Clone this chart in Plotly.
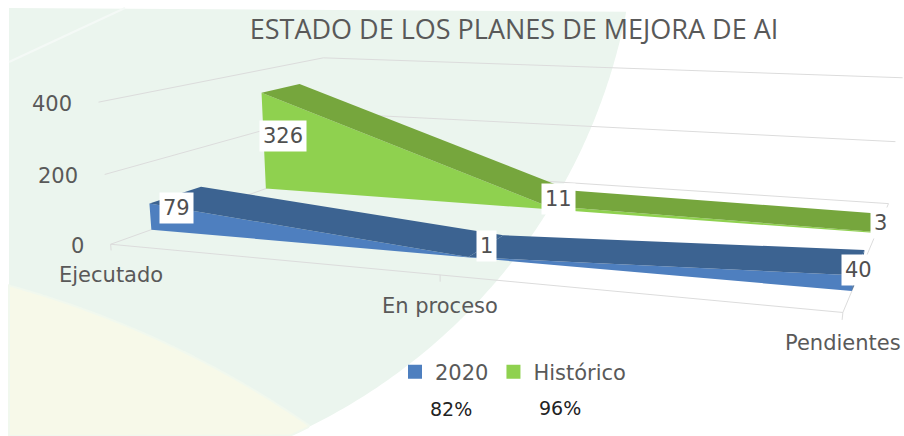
import numpy as np
import plotly.graph_objects as go

# ---- chart data ----
categories = ["Ejecutado", "En proceso", "Pendientes"]
values_2020 = [79, 1, 40]
values_historico = [326, 11, 3]
y_ticks = [0, 200, 400]
footer_labels = ["82%", "96%"]
axis_max = 400

FONT = "DejaVu Sans"
TEXT = "#595959"
GRID = "#dcdcdc"
BLUE, BLUE_TOP = "#4e7fbf", "#3c6391"
GREEN, GREEN_TOP = "#8fd14f", "#76a63d"

# ---- oblique view of the chart box: cube corners (category, depth, value/max) -> page pixel ----
view = [((0, 0, 0), (112, 243)), ((2, 0, 0), (843, 313)), ((2, 1, 0), (889, 203)), ((0, 1, 0), (325, 168)),
        ((0, 0, 1), (97, 103)), ((0, 1, 1), (325, 57)), ((2, 1, 1), (902, 78))]
rows = []
for (u, v, w), (px, py) in view:
    px, py = px / 1000, py / 1000
    rows.append([u, v, w, 1, 0, 0, 0, 0, -px * u, -px * v, -px * w, -px])
    rows.append([0, 0, 0, 0, u, v, w, 1, -py * u, -py * v, -py * w, -py])
P = np.linalg.svd(np.array(rows, float))[2][-1].reshape(3, 4)


def project(u, v, value):
    h = P @ np.array([u, v, value / axis_max, 1.0])
    return 1000 * h[0] / h[2], 1000 * h[1] / h[2]


def path(points):
    xy = [project(*p) for p in points]
    return [a for a, _ in xy], [b for _, b in xy]


fig = go.Figure()


def face(points, color):
    x, y = path(points)
    fig.add_trace(go.Scatter(x=x, y=y, mode="lines", fill="toself", fillcolor=color,
                             line=dict(width=0, color=color), showlegend=False, hoverinfo="skip"))


def line(points, width=1):
    x, y = path(points)
    fig.add_trace(go.Scatter(x=x, y=y, mode="lines", line=dict(width=width, color=GRID),
                             showlegend=False, hoverinfo="skip"))


n = len(categories)
last = n - 1
# walls, floor, tick marks
for t in y_ticks:
    line([(0, 0, t), (0, 1, t), (last, 1, t)])
line([(0, 0, 0), (last, 0, 0), (last, 1, 0)])
for i in range(n):
    line([(i, 0, 0), (i, 0, -axis_max * 0.045)])


def series(values, v0, v1, front, top):
    face([(i, v0, values[i]) for i in range(n)] + [(last, v0, 0), (0, v0, 0)], front)
    for i in range(last):
        face([(i, v0, values[i]), (i + 1, v0, values[i + 1]), (i + 1, v1, values[i + 1]), (i, v1, values[i])], top)
    face([(last, v0, 0), (last, v0, values[last]), (last, v1, values[last]), (last, v1, 0)], top)


series(values_historico, 0.66, 0.86, GREEN, GREEN_TOP)
series(values_2020, 0.15, 0.36, BLUE, BLUE_TOP)

# legend entries
for name, color in [("2020", BLUE), ("Histórico", GREEN)]:
    fig.add_trace(go.Scatter(x=[None], y=[None], mode="markers", name=name,
                             marker=dict(symbol="square", size=14, color=color)))

annotations = []
for t in y_ticks:
    x, y = project(0, 0, t)
    annotations.append(dict(x=x, y=y, text=str(t), xanchor="right", xshift=-25, yshift=-2, showarrow=False,
                            font=dict(family=FONT, size=21, color=TEXT)))
for i, c in enumerate(categories):
    x, y = project(i, 0, 0)
    annotations.append(dict(x=x, y=y, text=c, yshift=-31, showarrow=False,
                            font=dict(family=FONT, size=21, color=TEXT)))
for values, vmid in [(values_2020, 0.255), (values_historico, 0.76)]:
    for i, val in enumerate(values):
        x, y = project(i, vmid, val / 2)
        annotations.append(dict(x=x, y=y, text=str(val), showarrow=False, bgcolor="white", borderpad=3,
                                font=dict(family=FONT, size=21, color="#505050")))
for text, x, y in zip(footer_labels, [451, 560], [409, 408]):
    annotations.append(dict(x=x, y=y, text=text, showarrow=False,
                            font=dict(family=FONT, size=19, color="#222222")))

# ---- decorative page background ----
gx, gy, gr = 50, -100, 587
yx, yy, yr = -254, 1241, 991
ang = np.radians(np.linspace(-15, 100, 240))
arc = [(gx + gr * np.cos(a), gy + gr * np.sin(a)) for a in ang]
arc = [(a, b) for a, b in arc if 8 <= b <= 436]
green = [(9, 8)] + arc + [(9, 436)]
green_path = "M " + " L ".join(f"{a:.1f},{b:.1f}" for a, b in green) + " Z"
sx = np.arange(9, 340, 2.0)
sy = yy - np.sqrt(yr ** 2 - (sx - yx) ** 2)
inside = (sx - gx) ** 2 + (sy - gy) ** 2 < gr ** 2
yellow = list(zip(sx[inside], sy[inside]))
yellow_tail = [p for p in arc if p[1] > yellow[-1][1]]
yellow_all = yellow + yellow_tail + [(9, 436)]
yellow_path = "M " + " L ".join(f"{a:.1f},{b:.1f}" for a, b in yellow_all) + " Z"
shapes = [
    dict(type="path", path=green_path, xref="x", yref="y", layer="below", fillcolor="#ebf5ee", line=dict(width=0)),
    dict(type="path", path=yellow_path, xref="x", yref="y", layer="below", fillcolor="#f7f9e9",
         line=dict(width=2, color="#f1f8ee")),
    dict(type="line", x0=9, y0=62, x1=125, y1=8, xref="x", yref="y", layer="below",
         line=dict(width=2, color="#f4f9f6")),
]

fig.update_layout(
    width=904, height=436, margin=dict(l=0, r=0, t=0, b=0),
    paper_bgcolor="white", plot_bgcolor="rgba(0,0,0,0)",
    xaxis=dict(range=[0, 904], visible=False, fixedrange=True),
    yaxis=dict(range=[436, 0], visible=False, fixedrange=True),
    title=dict(text="ESTADO DE LOS PLANES DE MEJORA DE AI", x=514 / 904, xanchor="center",
               y=1 - 30 / 436, yanchor="middle", font=dict(family="Open Sans", size=27, color=TEXT)),
    legend=dict(orientation="h", x=395 / 904, y=1 - 372 / 436, xanchor="left", yanchor="middle",
                bgcolor="rgba(0,0,0,0)", font=dict(family=FONT, size=21, color=TEXT)),
    annotations=annotations, shapes=shapes,
)
fig.write_html("out.html", config={"displayModeBar": False},
               post_script="document.body.style.margin='0';")
